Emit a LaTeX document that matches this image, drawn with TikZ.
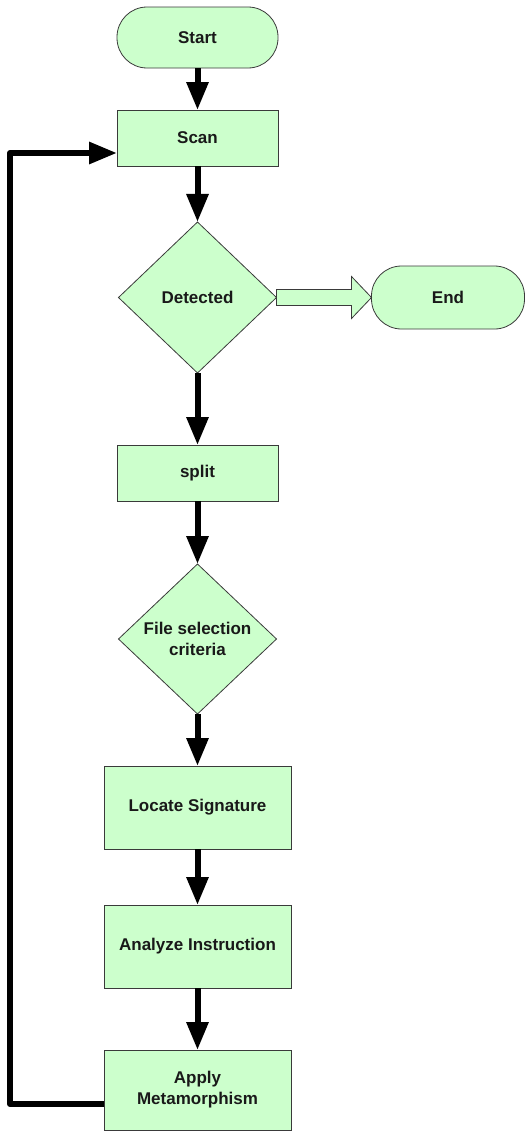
\documentclass[tikz,border=0pt]{standalone}
\usepackage{fontspec}
\setmainfont{Liberation Sans}
\usepackage{xcolor}
\usetikzlibrary{arrows.meta,positioning,calc,shapes.geometric}
\definecolor{boxfill}{HTML}{CCFFCC}
\definecolor{boxline}{HTML}{3A3A3A}

\begin{document}
\begin{tikzpicture}[
  x=1pt, y=1pt,
  font=\bfseries\fontsize{17}{21}\selectfont,
  base/.style={draw=boxline, fill=boxfill, line width=0.8pt, align=center, inner sep=0pt, outer sep=0pt, text=black!90},
  term/.style={base, rounded corners=30pt},
  proc/.style={base, minimum width=161pt, minimum height=56pt},
  bigproc/.style={base, minimum width=187pt, minimum height=83pt},
  test/.style={base, diamond, aspect=1, minimum width=158pt, minimum height=151pt},
  arr/.style={-{Triangle[length=28pt, width=21pt]}, line width=6pt},
  node distance=42pt
]
\useasboundingbox (0,0) rectangle (525,-1135);
\node[term, minimum width=161pt, minimum height=61pt] (start) at (197.5,-37.5) {Start};
\node[proc, below=42pt of start] (scan) {Scan};
\node[test, below=56pt of scan] (detected) {Detected};
\node[term, minimum width=153pt, minimum height=63pt, right=95pt of detected] (end) {End};
\node[proc, below=72pt of detected] (split) {split};
\node[test, minimum height=150pt, below=63pt of split] (criteria) {File selection\\criteria};
\node[bigproc, below=52pt of criteria] (locate) {Locate Signature};
\node[bigproc, below=56pt of locate] (analyze) {Analyze Instruction};
\node[bigproc, minimum height=80pt, below=62pt of analyze] (apply) {Apply\\Metamorphism};
\coordinate (rail) at (10,0);
\draw[arr] (start) -- (scan);
\draw[arr] (scan) -- (detected);
\draw[arr] (detected) -- (split);
\draw[arr] (split) -- (criteria);
\draw[arr] (criteria) -- (locate);
\draw[arr] (locate) -- (analyze);
\draw[arr] (analyze) -- (apply);
\draw[draw=boxline, fill=boxfill, line width=0.8pt, line join=miter]
  ($(detected.east)+(0,8)$) -- ($(end.west)+(-20,8)$) -- ($(end.west)+(-20,21)$) -- (end.west)
  -- ($(end.west)+(-20,-21)$) -- ($(end.west)+(-20,-8)$) -- ($(detected.east)+(0,-8)$) -- cycle;
\draw[arr, line join=round] ([yshift=-14pt]apply.west) -- ([yshift=-14pt]apply.west -| rail)
  -- ([yshift=-15pt]scan.west -| rail) -- ([yshift=-15pt]scan.west);
\end{tikzpicture}
\end{document}
